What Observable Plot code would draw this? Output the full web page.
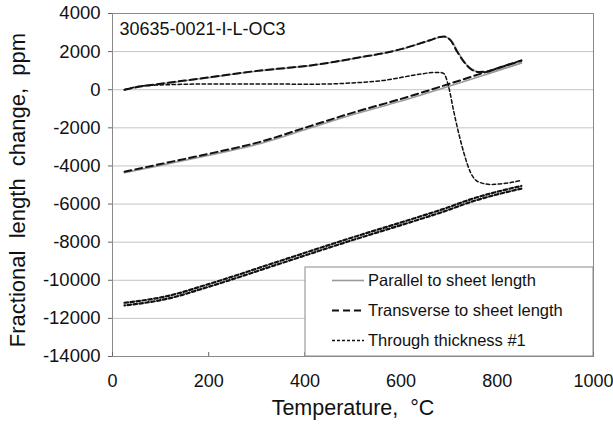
<!DOCTYPE html>
<html>
<head>
<meta charset="utf-8">
<script src="https://cdn.jsdelivr.net/npm/d3@7"></script>
<script src="https://cdn.jsdelivr.net/npm/@observablehq/plot@0.6"></script>
<style>
  html, body { margin: 0; padding: 0; background: #fff; }
  #chart { width: 613px; height: 424px; }
</style>
</head>
<body>
<div id="chart"></div>
<script>
// ---- tick labels ----
const xTicks = [0, 200, 400, 600, 800, 1000];
const yTicks = [4000, 2000, 0, -2000, -4000, -6000, -8000, -10000, -12000, -14000];

// ---- series names ----
const seriesNames = ["Parallel to sheet length", "Transverse to sheet length", "Through thickness #1"];
const sampleLabel = "30635-0021-I-L-OC3";

// ---- Transverse: heating ----
const transHeatT = [25, 60, 100, 150, 204, 250, 308, 360, 412, 460, 516, 564, 600, 633, 660, 680, 689, 703, 717, 731, 744, 762, 780, 800, 825, 850];
const transHeatV = [0, 180, 315, 480, 660, 820, 1010, 1140, 1275, 1460, 1710, 1920, 2130, 2380, 2600, 2760, 2790, 2590, 1975, 1450, 1100, 930, 960, 1120, 1320, 1520];
// ---- Transverse: cooling ----
const transCoolT = [25, 100, 204, 308, 412, 495, 600, 703, 780, 850];
const transCoolV = [-4300, -3900, -3340, -2730, -1900, -1240, -480, 330, 960, 1540];

// ---- Parallel: heating ----
const parHeatT = [25, 60, 100, 150, 204, 250, 308, 360, 412, 460, 516, 564, 600, 633, 660, 680, 689, 705, 720, 734, 748, 765, 785, 800, 825, 850];
const parHeatV = [0, 170, 300, 470, 650, 810, 1000, 1130, 1265, 1450, 1700, 1910, 2120, 2370, 2590, 2750, 2780, 2560, 1900, 1380, 1060, 900, 900, 1010, 1210, 1400];
// ---- Parallel: cooling ----
const parCoolT = [25, 100, 204, 308, 412, 495, 600, 703, 780, 850];
const parCoolV = [-4360, -3970, -3420, -2820, -2000, -1340, -590, 210, 830, 1400];

// ---- Through thickness #1: heating ----
const thickHeatT = [25, 64, 100, 204, 308, 412, 495, 564, 633, 665, 680, 689, 699, 709, 720, 731, 744, 762, 786, 821, 850];
const thickHeatV = [0, 210, 250, 300, 300, 290, 350, 490, 790, 900, 910, 840, 140, -1085, -2310, -3360, -4325, -4850, -4970, -4900, -4760];
// ---- Through thickness #1: cooling (two overlapping traces) ----
const thickCoolT = [25, 114, 200, 349, 488, 626, 682, 751, 850];
const thickCoolAV = [-11180, -10830, -10200, -8980, -7840, -6760, -6310, -5700, -5050];
const thickCoolBV = [-11320, -10970, -10340, -9120, -7980, -6900, -6450, -5840, -5190];

function rows(T, V) { return T.map((t, i) => ({ t, v: V[i] })); }

const parStyle = { stroke: "#9a9a9a", strokeWidth: 1.6 };
const transStyle = { stroke: "#111", strokeWidth: 2, strokeDasharray: "7,4" };
const thickStyle = { stroke: "#111", strokeWidth: 1.5, strokeDasharray: "3.5,2.5" };
const smooth = { curve: "monotone-x" };

const font = "'Liberation Sans', Arial, sans-serif";

const chart = Plot.plot({
  width: 613,
  height: 424,
  marginLeft: 112,
  marginRight: 20,
  marginTop: 13,
  marginBottom: 68,
  style: { fontFamily: font, fontSize: "18px", color: "#111", background: "white", overflow: "visible" },
  x: { domain: [0, 1000] },
  y: { domain: [-14000, 4000] },
  marks: [
    Plot.gridY(yTicks, { stroke: "#c4c4c4", strokeOpacity: 1 }),
    Plot.frame({ stroke: "#8a8a8a" }),
    Plot.axisY(yTicks, { tickSize: 4, tickPadding: 8, fontSize: 18.5, tickFormat: d => String(d), label: null, stroke: "#666" }),
    Plot.axisX(xTicks, { tickSize: -4, tickPadding: 22, fontSize: 18, tickFormat: d => String(d), label: null, stroke: "#666" }),
    Plot.line(rows(parHeatT, parHeatV), { x: "t", y: "v", ...parStyle, ...smooth }),
    Plot.line(rows(parCoolT, parCoolV), { x: "t", y: "v", ...parStyle, ...smooth }),
    Plot.line(rows(transHeatT, transHeatV), { x: "t", y: "v", ...transStyle, ...smooth }),
    Plot.line(rows(transCoolT, transCoolV), { x: "t", y: "v", ...transStyle, ...smooth }),
    Plot.line(rows(thickHeatT, thickHeatV), { x: "t", y: "v", ...thickStyle, ...smooth }),
    Plot.line(rows(thickCoolT, thickCoolAV), { x: "t", y: "v", ...thickStyle, strokeWidth: 2.2, ...smooth }),
    Plot.line(rows(thickCoolT, thickCoolBV), { x: "t", y: "v", ...thickStyle, strokeWidth: 2.2, strokeDashoffset: 3, ...smooth }),
    Plot.text([sampleLabel], { frameAnchor: "top-left", textAnchor: "start", lineAnchor: "middle", dx: 7, dy: 16, fontSize: 18, fill: "#111" }),
    Plot.text(["Temperature,\u00a0\u00a0°C"], { frameAnchor: "bottom", textAnchor: "middle", lineAnchor: "middle", dy: 52, fontSize: 21.5, fill: "#111" }),
    Plot.text(["Fractional\u00a0\u00a0length\u00a0\u00a0change,\u00a0\u00a0ppm"], { frameAnchor: "left", textAnchor: "middle", lineAnchor: "middle", rotate: -90, dx: -95, dy: 5, fontSize: 22, fill: "#111" })
  ]
});

document.getElementById("chart").appendChild(chart);

// ---- legend inside plot area ----
const svg = d3.select(chart);
const lg = svg.append("g").attr("font-family", font).attr("fill", "#111").attr("text-anchor", "start");
lg.append("rect").attr("x", 305).attr("y", 267).attr("width", 288).attr("height", 89)
  .attr("fill", "white").attr("stroke", "#8a8a8a");
const legendStyles = [parStyle, transStyle, { ...thickStyle, strokeDasharray: "3,2" }];
seriesNames.forEach((name, i) => {
  const y = 280.5 + i * 30;
  const s = legendStyles[i];
  lg.append("line").attr("x1", 332).attr("x2", 364).attr("y1", y).attr("y2", y)
    .attr("stroke", s.stroke).attr("stroke-width", s.strokeWidth)
    .attr("stroke-dasharray", s.strokeDasharray || null);
  lg.append("text").attr("x", 368).attr("y", y).attr("dy", "0.35em")
    .attr("text-anchor", "start").style("font-size", "16.5px").text(name);
});
</script>
</body>
</html>
